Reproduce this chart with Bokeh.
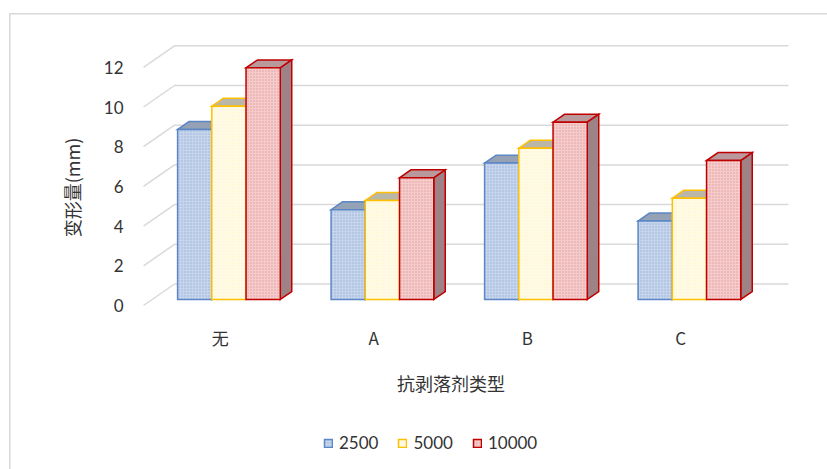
import math
from bokeh.plotting import figure
from bokeh.models import Range1d, FixedTicker, Legend, LegendItem
from bokeh.core.properties import value
from bokeh.embed import file_html
from bokeh.resources import INLINE

# ---------------- data ----------------
categories = ["无", "A", "B", "C"]
series_names = ["2500", "5000", "10000"]
v2500 = [8.56, 4.52, 6.87, 3.95]
v5000 = [9.74, 4.99, 7.62, 5.10]
v10000 = [11.67, 6.13, 8.93, 7.00]
y_ticks = [0, 2, 4, 6, 8, 10, 12]
x_title = "抗剥落剂类型"
y_title = "变形量(mm)"

# ---------------- layout constants (pixels) ----------------
W, H = 827, 469
LEFT_PX = 143                           # front-left corner of the floor
CAT_PX = 153.5                          # one category on the front plane
UNIT_PX = 19.85                         # one value unit
ZERO_PX = 305                           # y pixel of value 0 on the front plane
DEPTH_X, DEPTH_Y = 31.0, 21.5           # full depth offset of back wall (px)
Z1, Z2 = 0.28, 0.65                     # bar front / back depth fraction
BAR_W = 0.223                           # bar width in category units
XAXIS_PX = 307
XTITLE_PX = (450.5, 382.5)
YTITLE_PX = (71, 187)


def xd(px):
    return (px - LEFT_PX) / CAT_PX


def yd(py):
    return (ZERO_PX - py) / UNIT_PX


dx = DEPTH_X / CAT_PX
dy = DEPTH_Y / UNIT_PX
n = len(categories)

p = figure(width=W, height=H,
           x_range=Range1d(xd(0), xd(W)), y_range=Range1d(yd(H), yd(0)),
           output_backend="svg", toolbar_location=None,
           min_border=0, min_border_left=0, min_border_right=0,
           min_border_top=0, min_border_bottom=0)
p.outline_line_color = None
p.xgrid.visible = False
p.ygrid.visible = False
p.background_fill_color = None
p.border_fill_color = None
# light grey chart-area border (left and top edges visible in the reference)
p.styles = {
    "background-color": "white",
    "background-image": "linear-gradient(#d9d9d9, #d9d9d9), linear-gradient(#d9d9d9, #d9d9d9)",
    "background-size": "1.5px 100%, 100% 1.5px",
    "background-position": "9px 13px, 9px 13px",
    "background-repeat": "no-repeat",
}

TXT = "#333333"
CJK = "Noto Sans CJK SC"

# ---------------- back wall / side wall grid ----------------
gxs, gys = [], []
for t in y_ticks:
    gxs.append([0, dx, n + dx])
    gys.append([t, t + dy, t + dy])
p.multi_line(gxs, gys, line_color="#d9d9d9", line_width=1.5)

# ---------------- 3D bars ----------------
styles = [
    dict(line="#5b87c6", fill="#c6d5eb", hatch="#95afd9", top="#95a2b6", side="#8a96a8"),
    dict(line="#ffc000", fill="#fffbe8", hatch="#fff1c2", top="#bab6a8", side="#aca896"),
    dict(line="#c00000", fill="#f5cbcc", hatch="#e09a9b", top="#b9999b", side="#9f8285"),
]
all_vals = [v2500, v5000, v10000]
ddx = (Z2 - Z1) * dx
ddy = (Z2 - Z1) * dy
front_renderers = []
for j, (vals, st) in enumerate(zip(all_vals, styles)):
    cx = [i + 0.5 + (j - 1) * BAR_W + Z1 * dx for i in range(n)]
    bottom = Z1 * dy
    tops = [v + Z1 * dy for v in vals]
    top_xs, top_ys, side_xs, side_ys = [], [], [], []
    for c, t in zip(cx, tops):
        x0, x1 = c - BAR_W / 2, c + BAR_W / 2
        top_xs.append([x0, x1, x1 + ddx, x0 + ddx])
        top_ys.append([t, t, t + ddy, t + ddy])
        side_xs.append([x1, x1 + ddx, x1 + ddx, x1])
        side_ys.append([bottom, bottom + ddy, t + ddy, t])
    p.patches(top_xs, top_ys, fill_color=st["top"], line_color=st["line"],
              line_width=1.5, line_join="miter")
    p.patches(side_xs, side_ys, fill_color=st["side"], line_color=st["line"],
              line_width=1.5, line_join="miter")
    r = p.vbar(x=cx, top=tops, bottom=bottom, width=BAR_W,
               fill_color=st["fill"], line_color=st["line"], line_width=1.5,
               hatch_pattern="dot", hatch_color=st["hatch"], hatch_scale=3,
               hatch_weight=1, line_join="miter")
    front_renderers.append(r)

# ---------------- axes (drawn at fixed places inside the canvas) ----------------
yax = p.yaxis[0]
yax.fixed_location = 0
yax.ticker = FixedTicker(ticks=y_ticks)
yax.axis_line_color = None
yax.major_tick_line_color = None
yax.minor_tick_line_color = None
yax.major_tick_out = 0
yax.major_tick_in = 0
yax.major_label_standoff = 20
yax.major_label_text_font = "Lato"
yax.major_label_text_font_size = "17px"
yax.major_label_text_color = TXT

xax = p.xaxis[0]
xax.fixed_location = yd(XAXIS_PX)
xax.ticker = FixedTicker(ticks=[i + 0.5 for i in range(n)])
xax.major_label_overrides = {i + 0.5: c for i, c in enumerate(categories)}
xax.axis_line_color = None
xax.major_tick_line_color = None
xax.minor_tick_line_color = None
xax.major_tick_out = 0
xax.major_tick_in = 0
xax.major_label_standoff = 17
xax.major_label_text_font = CJK
xax.major_label_text_font_size = "17px"
xax.major_label_text_color = TXT

# axis titles
p.text(x=[xd(XTITLE_PX[0])], y=[yd(XTITLE_PX[1])], text=[x_title],
       text_font=value(CJK), text_font_size="18px", text_color=TXT,
       text_align="center", text_baseline="middle")
p.text(x=[xd(YTITLE_PX[0])], y=[yd(YTITLE_PX[1])], text=[y_title],
       angle=math.pi / 2, text_font=value(CJK), text_font_size="18px",
       text_color=TXT, text_align="center", text_baseline="middle")

# ---------------- legend ----------------
legend = Legend(items=[LegendItem(label=s, renderers=[r])
                       for s, r in zip(series_names, front_renderers)],
                location=(323, 16), orientation="horizontal",
                border_line_color=None, background_fill_alpha=0,
                padding=0, margin=0, spacing=19,
                glyph_width=10, glyph_height=10, label_standoff=6,
                label_text_font="Lato", label_text_font_size="17px",
                label_text_color=TXT)
p.add_layout(legend)

open("out.html", "w").write(file_html(p, INLINE))
